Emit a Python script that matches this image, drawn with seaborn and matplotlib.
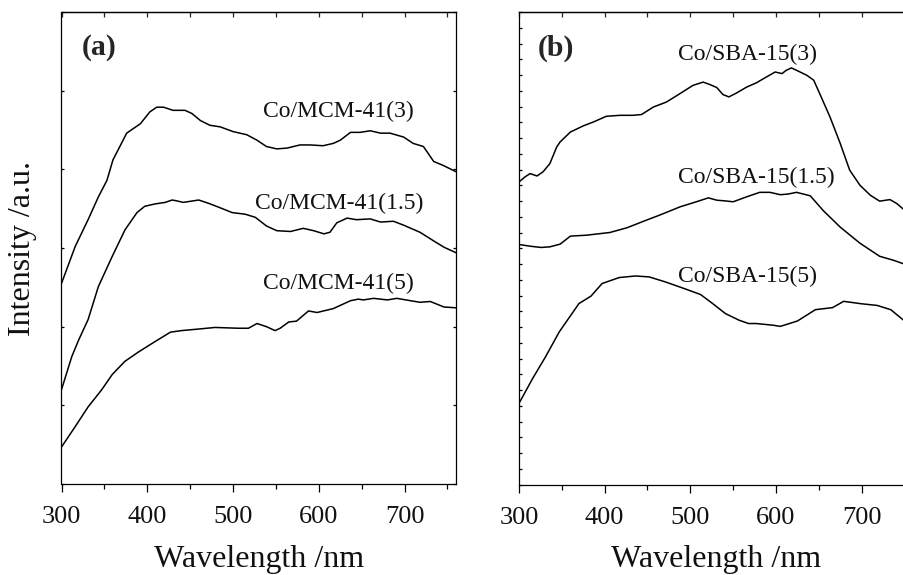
import numpy as np
import pandas as pd
import matplotlib
matplotlib.use("Agg")
import matplotlib.pyplot as plt
import seaborn as sns

# ---------------- data ----------------
mcm3_nm = [300, 316, 331, 343, 353, 360, 376, 384, 392, 403, 411, 419, 430, 444, 452,
           462, 473, 485, 500, 516, 528, 539, 551, 563, 578, 590, 605, 617, 625, 637,
           648, 660, 672, 683, 699, 710, 722, 734, 745, 760]
mcm3_int = [2.55, 3.02, 3.36, 3.65, 3.86, 4.12, 4.46, 4.52, 4.58, 4.73, 4.79, 4.79, 4.75,
            4.75, 4.71, 4.62, 4.56, 4.54, 4.48, 4.44, 4.37, 4.29, 4.26, 4.27, 4.31, 4.31,
            4.30, 4.33, 4.37, 4.47, 4.47, 4.49, 4.46, 4.46, 4.41, 4.33, 4.29, 4.10, 4.05, 3.97]

mcm15_nm = [300, 306, 312, 320, 331, 343, 359, 374, 388, 397, 409, 421, 429, 434, 442,
            460, 471, 483, 499, 514, 526, 539, 551, 567, 582, 594, 606, 613, 621, 633,
            644, 660, 672, 687, 699, 718, 734, 746, 760]
mcm15_int = [1.20, 1.41, 1.62, 1.83, 2.09, 2.51, 2.89, 3.23, 3.45, 3.53, 3.56, 3.58, 3.61,
             3.60, 3.58, 3.61, 3.57, 3.52, 3.45, 3.43, 3.39, 3.28, 3.22, 3.21, 3.25, 3.22,
             3.18, 3.20, 3.32, 3.38, 3.36, 3.37, 3.33, 3.34, 3.29, 3.20, 3.09, 3.01, 2.94]

mcm5_nm = [300, 316, 331, 347, 359, 374, 390, 409, 427, 440, 460, 479, 506, 518, 528,
           539, 549, 555, 565, 574, 588, 598, 617, 637, 646, 652, 664, 680, 691, 707,
           718, 730, 746, 760]
mcm5_int = [0.47, 0.73, 0.98, 1.20, 1.39, 1.56, 1.68, 1.81, 1.93, 1.95, 1.97, 1.99, 1.98,
            1.98, 2.04, 2.00, 1.95, 1.98, 2.06, 2.07, 2.20, 2.18, 2.23, 2.33, 2.35, 2.34,
            2.36, 2.34, 2.36, 2.33, 2.31, 2.32, 2.25, 2.24]

sba3_nm = [300, 307, 313, 321, 328, 336, 344, 348, 360, 375, 387, 402, 418, 433, 443,
           457, 472, 488, 503, 515, 523, 531, 538, 545, 554, 566, 577, 589, 599, 607,
           612, 618, 624, 636, 644, 651, 663, 675, 686, 698, 710, 721, 733, 741, 750]
sba3_int = [19.21, 19.53, 19.74, 19.59, 19.85, 20.37, 21.43, 21.75, 22.38, 22.77, 23.02,
            23.38, 23.44, 23.44, 23.49, 23.97, 24.28, 24.82, 25.34, 25.55, 25.39, 25.20,
            24.76, 24.61, 24.86, 25.24, 25.50, 25.88, 26.19, 26.09, 26.30, 26.45, 26.30,
            25.98, 25.67, 24.82, 23.34, 21.65, 19.96, 19.00, 18.37, 17.99, 18.09, 17.84, 17.42]

sba15_nm = [300, 313, 326, 336, 348, 360, 379, 406, 426, 449, 464, 488, 507, 521, 531,
            540, 550, 566, 581, 593, 605, 614, 624, 640, 655, 675, 698, 721, 737, 750]
sba15_int = [15.24, 15.13, 15.05, 15.09, 15.26, 15.77, 15.83, 16.00, 16.30, 16.79, 17.10,
             17.63, 17.95, 18.20, 18.05, 18.01, 17.95, 18.27, 18.55, 18.55, 18.40, 18.44,
             18.55, 18.33, 17.40, 16.34, 15.32, 14.49, 14.24, 13.99]

sba5_nm = [300, 316, 331, 347, 370, 384, 397, 417, 436, 452, 471, 495, 512, 526, 541,
           557, 568, 577, 597, 605, 625, 646, 666, 679, 699, 718, 734, 750]
sba5_int = [5.15, 6.74, 8.11, 9.69, 11.49, 11.96, 12.76, 13.14, 13.24, 13.18, 12.86, 12.40,
            12.06, 11.49, 10.85, 10.43, 10.22, 10.22, 10.11, 10.04, 10.38, 11.10, 11.23,
            11.63, 11.48, 11.37, 11.10, 10.38]

labels_a = ["Co/MCM-41(3)", "Co/MCM-41(1.5)", "Co/MCM-41(5)"]
labels_b = ["Co/SBA-15(3)", "Co/SBA-15(1.5)", "Co/SBA-15(5)"]
xticks_major = [300, 400, 500, 600, 700]
xlabel = "Wavelength /nm"
ylabel = "Intensity /a.u."

# ---------------- style ----------------
sns.set_style("ticks")
plt.rcParams["font.family"] = ["Liberation Serif", "DejaVu Serif"]
plt.rcParams["axes.linewidth"] = 0.9
plt.rcParams["axes.edgecolor"] = "black"

fig = plt.figure(figsize=(9.04, 5.75), dpi=100)
W, H = 904.0, 575.0
axA = fig.add_axes([61.5 / W, 1 - 484 / H, (456 - 61.5) / W, (484 - 12) / H])
axB = fig.add_axes([519 / W, 1 - 484.5 / H, (904.5 - 519) / W, (484.5 - 12) / H])

def draw(ax, nm, val):
    df = pd.DataFrame({"nm": nm, "val": val})
    sns.lineplot(data=df, x="nm", y="val", ax=ax, color="black", linewidth=1.1,
                 estimator=None, sort=False)

for nm, val in [(mcm3_nm, mcm3_int), (mcm15_nm, mcm15_int), (mcm5_nm, mcm5_int)]:
    draw(axA, nm, val)
for nm, val in [(sba3_nm, sba3_int), (sba15_nm, sba15_int), (sba5_nm, sba5_int)]:
    draw(axB, nm, val)

def style_axes(ax, xmax, ymax, yticks, right_ticks):
    ax.set_xlim(300, xmax)
    ax.set_ylim(0, ymax)
    ax.set_xticks(xticks_major)
    ax.set_xticks(np.arange(350, xmax + 1, 100), minor=True)
    ax.set_xticklabels([str(t) for t in xticks_major], fontsize=19)
    ax.tick_params(axis="x", which="major", direction="out", length=6, width=0.9,
                   pad=10, colors="black", labelcolor="#111111")
    ax.tick_params(axis="x", which="minor", direction="out", length=3.5, width=0.9,
                   colors="black")
    ax.set_yticks(yticks)
    ax.set_yticklabels([])
    ax.tick_params(axis="y", which="both", direction="in", length=2.5, width=0.9,
                   left=True, right=right_ticks, colors="black")
    sec = ax.secondary_xaxis("top")
    sec.set_xticks(np.arange(300, xmax + 1, 50))
    sec.tick_params(direction="in", length=3.5, width=0.9, labeltop=False)
    sec.set_xticklabels([])
    ax.set_xlabel("")
    ax.set_ylabel("")
    for s in ax.spines.values():
        s.set_visible(True)
        s.set_color("black")

style_axes(axA, 760, 6, np.arange(0, 7, 1), True)
style_axes(axB, 750, 30, np.arange(0, 31, 1), False)

# y label
axA.text((23 - 61.5) / 394.5, 0.5, ylabel, transform=axA.transAxes, rotation=90,
         ha="center", va="center", fontsize=23, color="#111111")
# x labels
axA.text(0.5, -0.175, xlabel, transform=axA.transAxes, ha="center", va="baseline",
         fontsize=23, color="#111111")
axB.text(0.512, -0.174, xlabel, transform=axB.transAxes, ha="center", va="baseline",
         fontsize=23, color="#111111")

# panel labels
axA.text(0.052, 0.909, "(a)", transform=axA.transAxes, fontsize=21.5,
         fontweight="bold", va="baseline", ha="left")
axB.text(0.049, 0.908, "(b)", transform=axB.transAxes, fontsize=21.5,
         fontweight="bold", va="baseline", ha="left")

# curve labels
for lab, (x, y) in zip(labels_a, [(0.511, 0.778), (0.490, 0.582), (0.511, 0.4125)]):
    axA.text(x, y, lab, transform=axA.transAxes, fontsize=17, va="baseline",
             ha="left", color="#111111")
for lab, (x, y) in zip(labels_b, [(0.4125, 0.898), (0.4125, 0.637), (0.4125, 0.429)]):
    axB.text(x, y, lab, transform=axB.transAxes, fontsize=17, va="baseline",
             ha="left", color="#111111")

fig.savefig("out.png", dpi=100)
